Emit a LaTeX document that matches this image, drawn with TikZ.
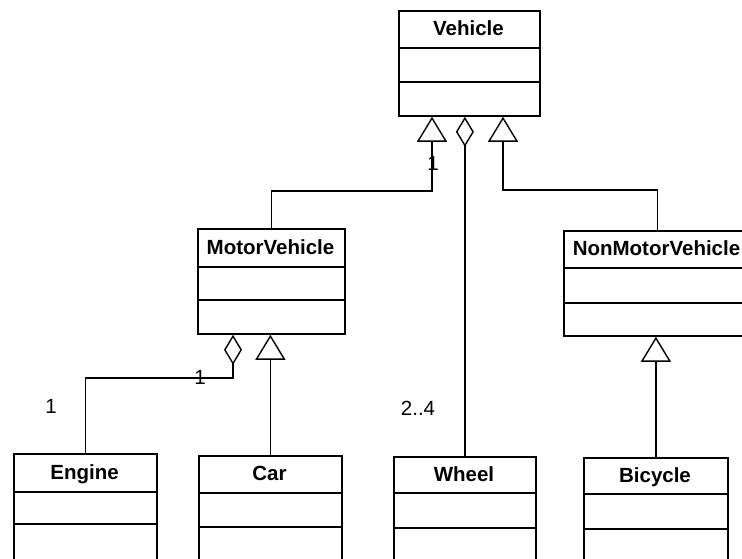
\documentclass[tikz,border=0pt]{standalone}
\usepackage{fontspec}
\setmainfont{Liberation Sans}
\usetikzlibrary{arrows.meta}
\newcommand\umlcls[8]{%
  \node[box, minimum width=#4pt, minimum height=#5pt] (#1) at (#2,#3) {};
  \draw[divider] (#2,#6) -- ++(#4,0) (#2,#7) -- ++(#4,0);
  \node[title, anchor=base] (#1t) at ({#2+#4/2},{(#3+#6)/2+6.5}) {#8};
}
\begin{document}
\begin{tikzpicture}[x=1pt,y=-1pt,
  box/.style={draw, line width=1.8pt, rectangle, inner sep=0pt, anchor=north west},
  divider/.style={line width=1.8pt},
  title/.style={font=\fontsize{20.5}{24}\selectfont\bfseries, inner sep=0pt},
  mult/.style={font=\fontsize{20.5}{24}\selectfont, inner sep=0pt},
  conn/.style={line width=1.4pt},
  gen/.style={conn, -{Triangle[open, width=30pt, length=25pt, line width=1.4pt]}},
  agg/.style={conn, -{Diamond[open, width=18pt, length=30pt, line width=1.4pt]}},
]
\useasboundingbox (0,0) rectangle (742,558);

\umlcls{vehicle}{398}{10}{141}{105}{48}{82}{Vehicle}
\umlcls{motor}{197}{228}{147}{105}{267}{300}{MotorVehicle}
\umlcls{nonmotor}{563}{230}{187}{105}{268}{303}{NonMotorVehicle}
\umlcls{engine}{13}{453}{143}{125}{492}{524}{Engine}
\umlcls{car}{198}{455}{143}{125}{493}{527}{Car}
\umlcls{wheel}{393}{456}{142}{125}{493}{528}{Wheel}
\umlcls{bicycle}{583}{457}{144}{125}{494}{529}{Bicycle}

\coordinate (j1) at (432,191);
\coordinate (j2) at (503,190);
\coordinate (j3) at (233,378);

\draw[gen] (motor.north) |- (j1) -- (vehicle.south -| j1);
\draw[gen] (nonmotor.north) |- (j2) -- (vehicle.south -| j2);
\draw[agg] (wheel.north) -- (vehicle.south -| wheel.north);
\draw[agg] (engine.north) |- (j3) -- (motor.south -| j3);
\draw[gen] (car.north) -- (motor.south -| car.north);
\draw[gen] (bicycle.north) -- (nonmotor.south -| bicycle.north);

\node[mult] (m1) at (433,163) {1};
\node[mult] (m2) at (200,377) {1};
\node[mult] (m3) at (51,406) {1};
\node[mult] (m4) at (418,408) {2..4};
\end{tikzpicture}
\end{document}
